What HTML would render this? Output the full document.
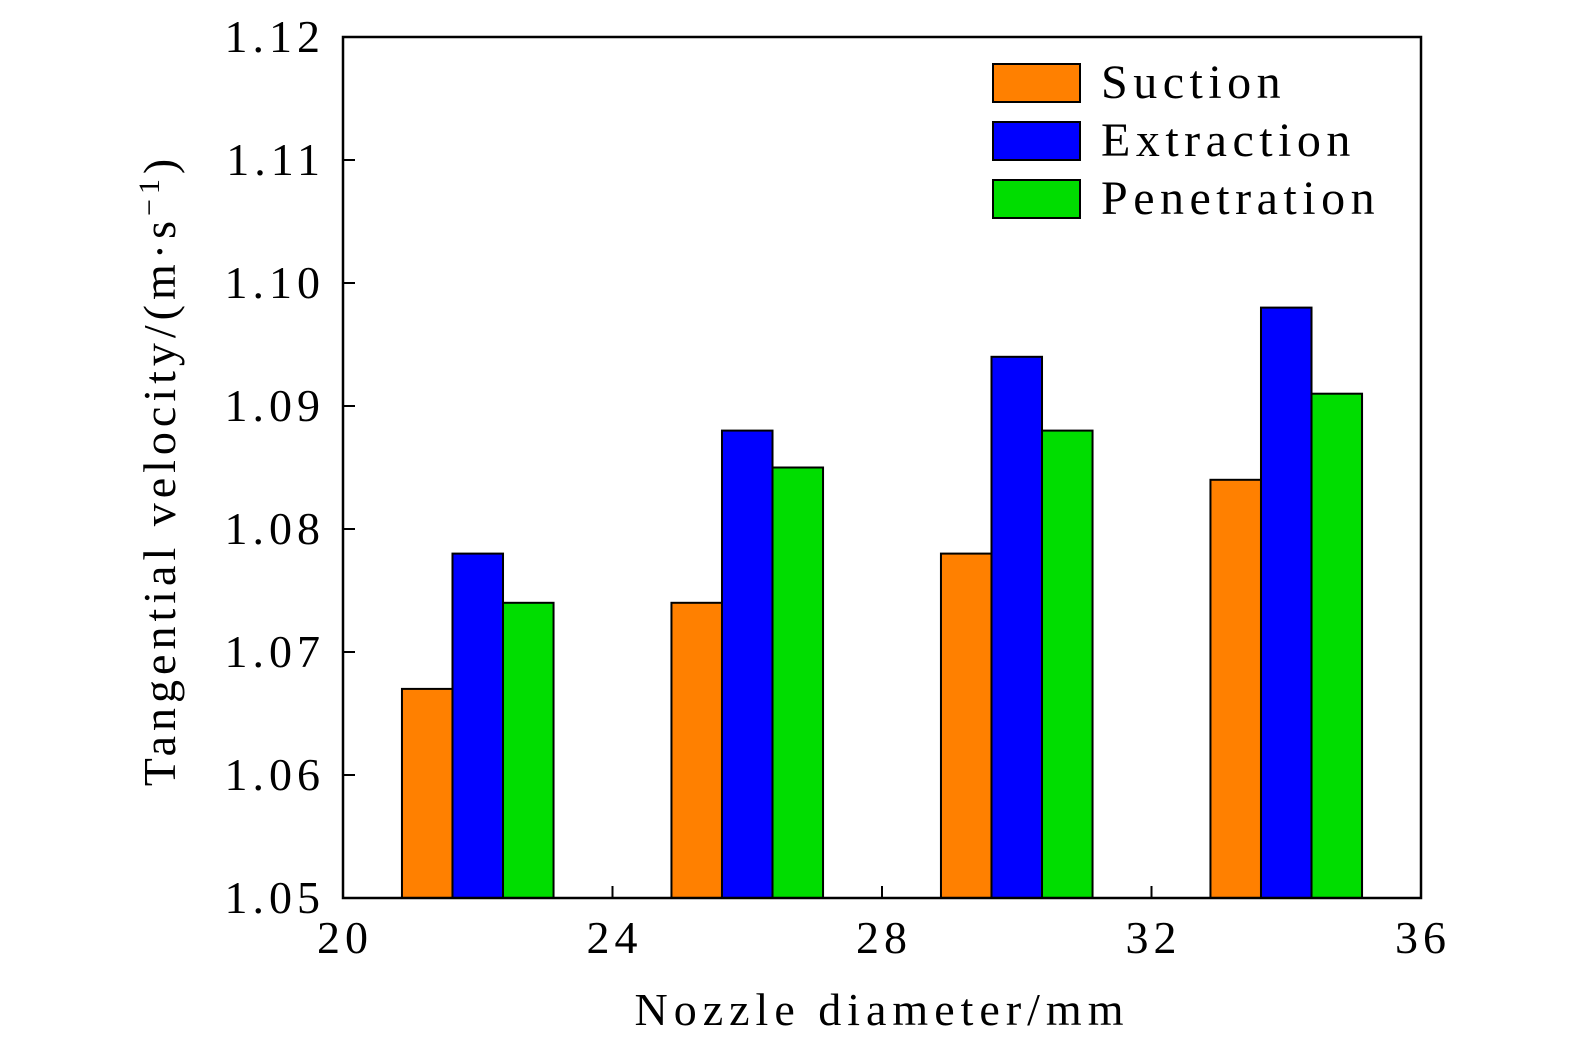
<!DOCTYPE html>
<html><head><meta charset="utf-8"><style>
body{margin:0;background:#fff}
svg{display:block;font-family:"Liberation Serif",serif}
</style></head><body>
<svg id="c" width="1575" height="1053"></svg>
<script>
const categories=[22,26,30,34];
const suction=[1.067,1.074,1.078,1.084];
const extraction=[1.078,1.088,1.094,1.098];
const penetration=[1.074,1.085,1.088,1.091];
const xTicks=[20,24,28,32,36];
const yTicks=[1.05,1.06,1.07,1.08,1.09,1.10,1.11,1.12];
const seriesNames=["Suction","Extraction","Penetration"];
const colors=["#ff8000","#0000ff","#00dd00"];
const L=343,R=1421,T=37,B=898;
const xs=v=>L+(v-20)/16*(R-L);
const ys=v=>B-(v-1.05)/0.07*(B-T);
const svg=document.getElementById('c');
const NS='http://www.w3.org/2000/svg';
function mk(t,a,p){const e=document.createElementNS(NS,t);for(const k in a)e.setAttribute(k,a[k]);(p||svg).appendChild(e);return e;}
const series=[suction,extraction,penetration];
const bw=0.75;
series.forEach((s,si)=>{s.forEach((v,i)=>{
 const x0=xs(categories[i]+(si-1)*bw-bw/2),x1=xs(categories[i]+(si-1)*bw+bw/2);
 const r=mk('rect',{x:x0,y:ys(v),width:x1-x0,height:B-ys(v),fill:colors[si],stroke:'#000','stroke-width':2});
 
 
});});
const frame=mk('rect',{x:L,y:T,width:R-L,height:B-T,fill:'none',stroke:'#000','stroke-width':2.5});


xTicks.forEach(v=>{
 mk('line',{x1:xs(v),x2:xs(v),y1:B,y2:B-12,stroke:'#000','stroke-width':2});
 const t=mk('text',{x:xs(v)+2,y:B+55,'font-size':46,'letter-spacing':5,'text-anchor':'middle'});t.textContent=v;
 
 
});
yTicks.forEach(v=>{
 mk('line',{x1:L,x2:L+12,y1:ys(v),y2:ys(v),stroke:'#000','stroke-width':2});
 const t=mk('text',{x:L-18,y:ys(v)+15,'font-size':46,'letter-spacing':5,'text-anchor':'end'});t.textContent=v.toFixed(2);
 
 
});
const xl=mk('text',{x:882,y:1025,'font-size':46,'letter-spacing':6,'text-anchor':'middle'});xl.textContent='Nozzle diameter/mm';


const yl=mk('text',{x:0,y:0,'font-size':46,'letter-spacing':5,'text-anchor':'middle',transform:'translate(175,470) rotate(-90)'});
yl.innerHTML='Tangential velocity/(m·s<tspan dy="-16" font-size="30">−1</tspan><tspan dy="16">)</tspan>';


const ly=[64,122,180];
seriesNames.forEach((n,i)=>{
 const r=mk('rect',{x:993,y:ly[i],width:87,height:38,fill:colors[i],stroke:'#000','stroke-width':2});
 
 
 const t=mk('text',{x:1101,y:ly[i]+34,'font-size':48,'letter-spacing':5.5});t.textContent=n;
 
 
});
</script>
</body></html>
